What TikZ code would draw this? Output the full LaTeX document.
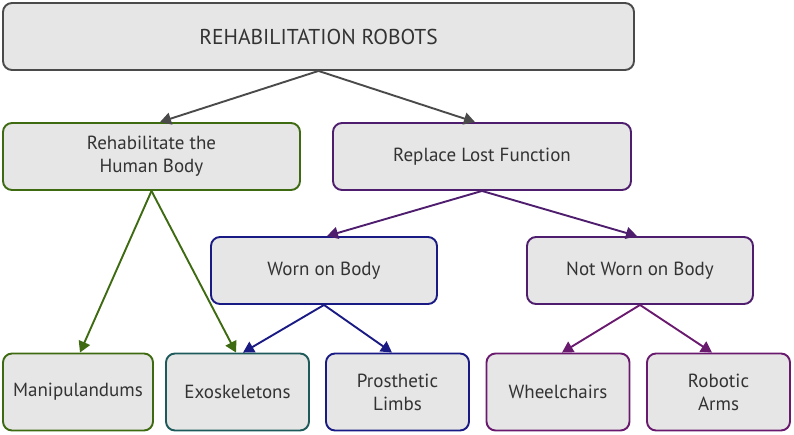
\documentclass[tikz,border=0pt]{standalone}
\usepackage{fontspec}
\setmainfont{PT Sans}
\usetikzlibrary{arrows.meta}
\definecolor{boxfill}{HTML}{E6E6E6}
\definecolor{topc}{HTML}{4A4A4A}
\definecolor{greenc}{HTML}{3E6B12}
\definecolor{purpc}{HTML}{4E1D6E}
\definecolor{navyc}{HTML}{1A1A85}
\definecolor{tealc}{HTML}{1E5A5A}
\definecolor{magc}{HTML}{6A1A6E}
\definecolor{textc}{HTML}{333333}
\tikzset{
  box/.style={draw, line width=1.9pt, rounded corners=9pt, fill=boxfill, inner sep=0pt,
    align=center, text=textc, font=\fontsize{19}{23}\selectfont},
  conn/.style={line width=1.9pt, -{Triangle[length=11pt,width=12pt]}},
}
\begin{document}
\begin{tikzpicture}[x=1pt,y=-1pt]
\useasboundingbox (0,0) rectangle (794,434);
\node[box, draw=topc, minimum width=631pt, minimum height=67pt, font=\fontsize{21.5}{25}\selectfont] (top) at (318.5,36.5) {REHABILITATION ROBOTS};
\node[box, draw=greenc, minimum width=297pt, minimum height=67pt] (rehab) at (151.5,156.5) {Rehabilitate the\\Human Body};
\node[box, draw=purpc, minimum width=298pt, minimum height=67pt] (repl) at (482,156.5) {Replace Lost Function};
\node[box, draw=navyc, minimum width=226pt, minimum height=67pt] (worn) at (324,270.5) {Worn on Body};
\node[box, draw=purpc, minimum width=226pt, minimum height=67pt] (notworn) at (640,270.5) {Not Worn on Body};
\node[box, draw=greenc, minimum width=150pt, minimum height=77pt] (manip) at (78,392) {Manipulandums};
\node[box, draw=tealc, minimum width=143pt, minimum height=77pt] (exo) at (237.5,392) {Exoskeletons};
\node[box, draw=navyc, minimum width=143pt, minimum height=77pt] (pros) at (397.5,392) {Prosthetic\\Limbs};
\node[box, draw=magc, minimum width=143pt, minimum height=77pt] (wheel) at (558,392) {Wheelchairs};
\node[box, draw=magc, minimum width=143pt, minimum height=77pt] (arm) at (718.5,392) {Robotic\\Arms};
\draw[conn, topc] (top.south) -- (rehab.north -| 160,0);
\draw[conn, topc] (top.south) -- (repl.north -| 475,0);
\draw[conn, greenc] (rehab.south) -- (manip.north -| 80,0);
\draw[conn, greenc] (rehab.south) -- (exo.north -| 236,0);
\draw[conn, purpc] (repl.south) -- (worn.north -| 327,0);
\draw[conn, purpc] (repl.south) -- (notworn.north -| 637,0);
\draw[conn, navyc] (worn.south) -- (exo.north -| 243,0);
\draw[conn, navyc] (worn.south) -- (pros.north -| 392,0);
\draw[conn, magc] (notworn.south) -- (wheel.north -| 562,0);
\draw[conn, magc] (notworn.south) -- (arm.north -| 712,0);
\end{tikzpicture}
\end{document}
